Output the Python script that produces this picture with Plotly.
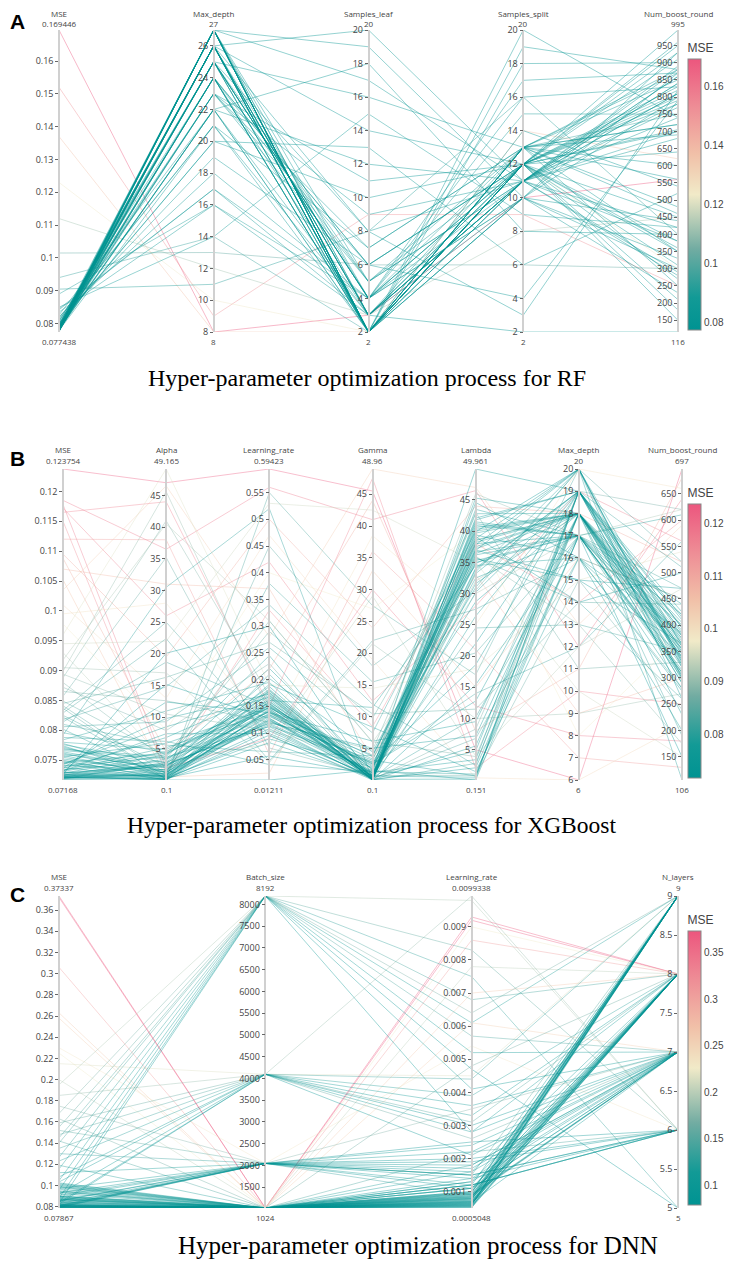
import plotly.graph_objects as go
from plotly.colors import sample_colorscale, unlabel_rgb

# the page body keeps its default 8px margin: positions below are page pixels,
# and the figure is kept small enough that the page does not scroll
OFF = 8
W, H = 733 - OFF, 1267 - 2 * OFF

# ---------------- RF ----------------
rf_mse = [0.169446, 0.152, 0.137, 0.123, 0.112, 0.1015, 0.094, 0.089, 0.0905, 0.0845,
          0.077438, 0.0776, 0.0779, 0.0781, 0.0778, 0.0783, 0.0786, 0.0780, 0.0777, 0.0785,
          0.0791, 0.0782, 0.0788, 0.0779, 0.0794, 0.0784, 0.0776, 0.0799, 0.0781, 0.0787,
          0.0803, 0.0778, 0.0792, 0.0785, 0.0780, 0.0812, 0.0783, 0.0777, 0.0796, 0.0789,
          0.0821, 0.0779, 0.0786, 0.0781, 0.0808, 0.0784, 0.0778, 0.0790, 0.0835, 0.0782,
          0.0776, 0.0798, 0.0787, 0.0780, 0.0815, 0.0783, 0.0779, 0.0793, 0.0842, 0.0785,
          0.0777, 0.0801, 0.0788, 0.0781, 0.0826, 0.0784, 0.0778, 0.0795, 0.0786, 0.0780,
          0.0850, 0.0782, 0.0779, 0.0805, 0.0789, 0.0783, 0.0777, 0.0818, 0.0787, 0.0781]
rf_max_depth = [8, 9, 8, 10, 12, 13, 14, 16, 11, 17,
                27, 26, 25, 27, 24, 26, 23, 27, 25, 22,
                26, 27, 24, 21, 26, 25, 27, 20, 26, 24,
                23, 27, 25, 26, 22, 19, 27, 24, 26, 25,
                18, 26, 27, 23, 24, 25, 26, 27, 16, 22,
                27, 25, 26, 24, 21, 27, 26, 23, 17, 25,
                26, 20, 27, 24, 22, 26, 25, 27, 23, 26,
                14, 27, 24, 25, 26, 22, 27, 21, 26, 25]
rf_samples_leaf = [3, 9, 2, 2, 3, 6, 2, 4, 8, 3,
                   2, 3, 2, 4, 2, 3, 6, 2, 5, 2,
                   4, 2, 3, 7, 2, 8, 2, 10, 3, 2,
                   5, 2, 4, 2, 12, 6, 3, 2, 14, 2,
                   4, 2, 3, 9, 2, 16, 2, 5, 3, 18,
                   2, 4, 2, 6, 3, 19, 2, 11, 4, 2,
                   3, 13, 2, 5, 2, 20, 4, 2, 7, 3,
                   15, 2, 6, 4, 2, 3, 17, 2, 8, 4]
rf_samples_split = [10, 9, 14, 12, 8, 6, 13, 12, 16, 11,
                    12, 11, 13, 12, 10, 11, 12, 13, 11, 12,
                    10, 12, 11, 13, 12, 11, 14, 12, 13, 10,
                    11, 12, 16, 13, 11, 12, 10, 20, 12, 11,
                    13, 12, 2, 11, 12, 13, 19, 12, 11, 8,
                    12, 11, 13, 4, 12, 10, 11, 12, 15, 13,
                    11, 6, 12, 13, 18, 11, 12, 10, 13, 12,
                    9, 11, 12, 17, 13, 12, 11, 12, 3, 10]
rf_num_boost_round = [560, 250, 620, 300, 450, 300, 750, 800, 400, 700,
                      820, 380, 880, 705, 930, 290, 640, 850, 420, 910,
                      300, 780, 860, 350, 995, 740, 540, 810, 250, 870,
                      770, 150, 830, 460, 680, 450, 800, 740, 350, 890,
                      720, 950, 116, 840, 310, 600, 880, 210, 780, 400,
                      700, 860, 480, 790, 930, 330, 810, 380, 750, 870,
                      840, 520, 270, 720, 900, 280, 830, 440, 690, 960,
                      420, 810, 360, 870, 560, 790, 880, 180, 820, 230]

# ---------------- XGBoost ----------------
xgb_mse = [0.07168, 0.0718, 0.0720, 0.0722, 0.0719, 0.0725, 0.0721, 0.0728, 0.0723, 0.0730,
           0.0719, 0.0733, 0.0726, 0.0721, 0.0736, 0.0724, 0.0740, 0.0722, 0.0729, 0.0744,
           0.0720, 0.0731, 0.0748, 0.0725, 0.0737, 0.0752, 0.0723, 0.0734, 0.0756, 0.0727,
           0.0742, 0.0760, 0.0721, 0.0746, 0.0764, 0.0730, 0.0750, 0.0768, 0.0724, 0.0755,
           0.0772, 0.0732, 0.0758, 0.0776, 0.0726, 0.0762, 0.0780, 0.0738, 0.0766, 0.0784,
           0.0722, 0.0770, 0.0788, 0.0741, 0.0774, 0.0792, 0.0728, 0.0778, 0.0796, 0.0745,
           0.0802, 0.0810, 0.0818, 0.0825, 0.0806, 0.0833, 0.0841, 0.0814, 0.0849, 0.0857,
           0.0822, 0.0865, 0.0872, 0.0829, 0.0880, 0.0888, 0.0837, 0.0894, 0.0845, 0.0899,
           0.123754, 0.1185, 0.1178, 0.1172, 0.1165, 0.1150, 0.1120, 0.1095, 0.1088, 0.1070,
           0.1052, 0.1035, 0.1010, 0.0995, 0.0978, 0.0960, 0.0945, 0.0930, 0.0918, 0.0905]
xgb_alpha = [0.1, 0.4, 1.2, 2.5, 0.8, 3.4, 0.2, 4.1, 1.8, 0.6,
             2.9, 5.2, 0.3, 1.5, 6.8, 0.9, 3.7, 0.1, 2.2, 8.5,
             1.1, 4.6, 0.5, 2.7, 12.4, 1.4, 0.2, 3.1, 5.9, 0.7,
             9.8, 2.0, 0.4, 4.3, 1.6, 15.2, 0.3, 3.8, 2.4, 0.9,
             1.3, 7.4, 0.6, 2.8, 20.1, 1.0, 4.9, 0.2, 3.5, 11.0,
             0.8, 2.1, 6.2, 1.7, 0.5, 30.5, 2.6, 1.2, 4.4, 0.1,
             0.3, 5.6, 14.8, 2.2, 9.3, 25.0, 1.1, 18.7, 4.0, 35.2,
             0.7, 12.6, 7.9, 22.4, 3.3, 41.0, 0.2, 10.5, 16.3, 45.6,
             47.0, 36.5, 2.0, 26.0, 44.0, 1.2, 38.0, 19.5, 4.5, 31.0,
             0.6, 46.5, 13.0, 28.0, 8.0, 49.165, 22.0, 3.0, 40.5, 17.0]
xgb_learning_rate = [0.128, 0.142, 0.155, 0.118, 0.163, 0.135, 0.104, 0.171, 0.149, 0.122,
                     0.187, 0.139, 0.096, 0.158, 0.176, 0.131, 0.112, 0.145, 0.202, 0.167,
                     0.125, 0.151, 0.089, 0.182, 0.138, 0.116, 0.160, 0.221, 0.147, 0.108,
                     0.173, 0.134, 0.057, 0.156, 0.191, 0.127, 0.143, 0.245, 0.119, 0.166,
                     0.152, 0.099, 0.179, 0.140, 0.300, 0.133, 0.161, 0.082, 0.148, 0.195,
                     0.124, 0.169, 0.041, 0.137, 0.154, 0.520, 0.113, 0.175, 0.146, 0.01211,
                     0.210, 0.065, 0.340, 0.180, 0.260, 0.095, 0.450, 0.150, 0.290, 0.072,
                     0.380, 0.120, 0.230, 0.048, 0.310, 0.170, 0.550, 0.105, 0.270, 0.140,
                     0.59423, 0.560, 0.090, 0.420, 0.150, 0.330, 0.060, 0.500, 0.220, 0.370,
                     0.025, 0.280, 0.470, 0.110, 0.400, 0.190, 0.530, 0.080, 0.310, 0.045]
xgb_gamma = [0.1, 0.3, 0.8, 1.5, 0.2, 2.4, 0.5, 0.1, 1.1, 3.2,
             0.4, 0.9, 0.1, 1.8, 0.6, 2.9, 0.2, 0.7, 4.5, 0.3,
             1.3, 0.1, 2.1, 0.5, 6.2, 0.8, 0.2, 1.6, 3.8, 0.4,
             0.1, 2.6, 0.9, 0.3, 8.4, 1.2, 0.6, 0.1, 5.1, 0.2,
             1.9, 0.7, 0.4, 3.4, 0.1, 1.0, 11.5, 0.5, 2.2, 0.3,
             0.8, 0.1, 1.4, 4.0, 0.6, 0.2, 2.8, 0.9, 0.1, 1.7,
             0.5, 3.9, 12.0, 1.2, 7.5, 0.3, 18.0, 2.6, 9.8, 0.8,
             15.5, 4.8, 0.2, 22.0, 6.1, 1.5, 27.5, 3.0, 10.5, 0.6,
             45.5, 41.0, 30.0, 12.5, 47.5, 8.5, 36.0, 24.0, 44.0, 3.5,
             33.0, 48.96, 19.0, 38.5, 27.0, 14.5, 42.5, 29.0, 6.0, 21.5]
xgb_lambda = [38.5, 36.2, 34.1, 40.3, 2.1, 37.8, 31.6, 42.1, 35.0, 0.8,
              39.4, 33.2, 5.6, 41.2, 36.9, 28.7, 0.3, 38.0, 34.8, 44.6,
              3.4, 37.2, 32.5, 39.9, 9.5, 35.6, 41.8, 0.151, 36.4, 30.2,
              40.9, 12.8, 38.8, 33.9, 1.5, 37.5, 43.5, 26.4, 7.2, 39.1,
              35.3, 0.6, 40.6, 31.0, 15.4, 38.2, 34.5, 4.8, 42.8, 36.7,
              22.0, 39.7, 1.1, 37.0, 45.3, 33.5, 18.6, 41.5, 2.8, 49.961,
              10.2, 35.8, 2.5, 24.5, 40.0, 6.8, 30.5, 14.0, 38.6, 0.9,
              20.5, 43.0, 8.3, 27.5, 3.9, 36.0, 17.0, 46.0, 11.5, 32.0,
              5.0, 46.5, 12.0, 28.0, 2.0, 38.0, 21.0, 44.0, 8.0, 33.0,
              15.0, 47.0, 0.5, 25.0, 40.0, 18.0, 35.0, 4.0, 30.0, 10.0]
xgb_max_depth = [18, 17, 19, 18, 17, 20, 18, 19, 17, 18,
                 16, 19, 18, 17, 20, 18, 19, 17, 18, 16,
                 19, 18, 17, 20, 18, 15, 19, 17, 18, 19,
                 17, 18, 20, 19, 16, 18, 17, 19, 18, 14,
                 17, 19, 18, 20, 17, 18, 16, 19, 18, 17,
                 19, 18, 17, 15, 18, 20, 19, 17, 18, 19,
                 17, 14, 19, 13, 18, 16, 20, 12, 18, 15,
                 17, 11, 19, 16, 18, 13, 20, 17, 14, 18,
                 6, 12, 8, 19, 10, 14, 7, 18, 11, 9,
                 16, 13, 6, 20, 8, 15, 10, 12, 17, 9]
xgb_num_boost_round = [340, 310, 365, 290, 380, 325, 405, 300, 355, 420,
                       275, 345, 390, 315, 260, 370, 335, 440, 305, 385,
                       350, 230, 400, 320, 360, 470, 295, 375, 340, 410,
                       280, 355, 330, 395, 200, 365, 310, 425, 345, 500,
                       300, 385, 325, 360, 150, 375, 340, 415, 290, 350,
                       395, 320, 610, 365, 335, 106, 380, 305, 355, 330,
                       420, 260, 510, 350, 190, 450, 300, 560, 380, 240,
                       470, 330, 620, 280, 400, 175, 520, 360, 440, 310,
                       697, 640, 180, 560, 250, 600, 130, 520, 680, 300,
                       450, 590, 210, 660, 380, 540, 150, 470, 620, 270]

# ---------------- DNN ----------------
dnn_mse = [0.07867, 0.0790, 0.0795, 0.0801, 0.0788, 0.0806, 0.0812, 0.0793, 0.0818, 0.0799,
           0.0825, 0.0791, 0.0831, 0.0804, 0.0838, 0.0797, 0.0845, 0.0809, 0.0852, 0.0789,
           0.0859, 0.0815, 0.0866, 0.0802, 0.0873, 0.0821, 0.0880, 0.0794, 0.0887, 0.0828,
           0.0894, 0.0807, 0.0901, 0.0835, 0.0908, 0.0798, 0.0915, 0.0842, 0.0922, 0.0811,
           0.0929, 0.0849, 0.0936, 0.0803, 0.0943, 0.0856, 0.0950, 0.0817, 0.0957, 0.0863,
           0.0964, 0.0796, 0.0971, 0.0870, 0.0978, 0.0824, 0.0985, 0.0877, 0.0992, 0.0808,
           0.1000, 0.0884, 0.1008, 0.0832, 0.1016, 0.0891, 0.1024, 0.0814, 0.1032, 0.0898,
           0.1045, 0.1080, 0.1120, 0.1155, 0.1190, 0.1230, 0.1265, 0.1300, 0.1350, 0.1400,
           0.1420, 0.1450, 0.1480, 0.1520, 0.1550, 0.1590, 0.1630, 0.1680, 0.1750, 0.1850,
           0.37337, 0.3720, 0.3060, 0.2630, 0.2580, 0.2300, 0.2250, 0.2150, 0.2000, 0.1950]
dnn_batch_size = [1024, 1024, 2048, 1024, 1024, 1024, 2048, 1024, 1024, 1024,
                  1024, 2048, 1024, 1024, 4096, 1024, 1024, 1024, 2048, 1024,
                  1024, 1024, 1024, 2048, 1024, 1024, 8192, 1024, 1024, 2048,
                  1024, 1024, 1024, 1024, 2048, 1024, 4096, 1024, 1024, 1024,
                  2048, 1024, 1024, 1024, 1024, 2048, 1024, 1024, 8192, 1024,
                  1024, 1024, 2048, 1024, 1024, 4096, 1024, 1024, 1024, 2048,
                  1024, 1024, 1024, 8192, 1024, 2048, 1024, 1024, 4096, 1024,
                  8192, 4096, 2048, 8192, 1024, 4096, 8192, 2048, 4096, 8192,
                  1024, 8192, 4096, 2048, 8192, 4096, 1024, 8192, 2048, 4096,
                  1024, 1024, 1024, 1024, 1024, 2048, 1024, 4096, 1024, 8192]
dnn_learning_rate = [0.00052, 0.00065, 0.0011, 0.00078, 0.00058, 0.00092, 0.0014, 0.00061, 0.00085, 0.0012,
                     0.00055, 0.0016, 0.00071, 0.00098, 0.0021, 0.00063, 0.00081, 0.0013, 0.0019, 0.00057,
                     0.00088, 0.0010, 0.00068, 0.0015, 0.00074, 0.00095, 0.0028, 0.00059, 0.0011, 0.0017,
                     0.00066, 0.00083, 0.0012, 0.00054, 0.0022, 0.00077, 0.0033, 0.0009, 0.00062, 0.0014,
                     0.0018, 0.0007, 0.00096, 0.00056, 0.0011, 0.0025, 0.0008, 0.00064, 0.0041, 0.0013,
                     0.0005048, 0.00087, 0.0015, 0.00072, 0.0010, 0.0030, 0.00067, 0.0012, 0.00079, 0.0020,
                     0.00093, 0.0006, 0.0016, 0.0047, 0.00075, 0.0024, 0.0011, 0.00069, 0.0036, 0.00084,
                     0.0052, 0.0028, 0.0012, 0.0061, 0.0018, 0.0039, 0.0075, 0.0009, 0.0044, 0.0068,
                     0.0022, 0.0057, 0.0031, 0.0015, 0.0083, 0.0026, 0.0048, 0.0064, 0.0035, 0.0099338,
                     0.0093, 0.0092, 0.0086, 0.0070, 0.0061, 0.0054, 0.0090, 0.0045, 0.0078, 0.0098]
dnn_n_layers = [8, 9, 7, 8, 9, 8, 7, 9, 8, 6,
                9, 7, 8, 9, 7, 8, 9, 7, 6, 8,
                9, 8, 7, 6, 9, 8, 7, 9, 8, 7,
                8, 9, 6, 8, 7, 9, 8, 7, 9, 6,
                7, 8, 9, 8, 7, 6, 9, 8, 7, 8,
                9, 7, 6, 8, 9, 7, 8, 9, 8, 6,
                7, 9, 8, 5, 9, 7, 8, 9, 7, 8,
                7, 8, 6, 9, 7, 8, 5, 7, 9, 8,
                6, 7, 8, 9, 6, 7, 8, 9, 7, 6,
                8, 8, 8, 8, 7, 6, 8, 9, 8, 6]

# tick values shown on each axis
rf_ticks = [[0.08, 0.09, 0.1, 0.11, 0.12, 0.13, 0.14, 0.15, 0.16],
            [8, 10, 12, 14, 16, 18, 20, 22, 24, 26],
            [2, 4, 6, 8, 10, 12, 14, 16, 18, 20],
            [2, 4, 6, 8, 10, 12, 14, 16, 18, 20],
            [150, 200, 250, 300, 350, 400, 450, 500, 550, 600, 650, 700, 750, 800, 850, 900, 950]]
xgb_ticks = [[0.075, 0.08, 0.085, 0.09, 0.095, 0.1, 0.105, 0.11, 0.115, 0.12],
             [5, 10, 15, 20, 25, 30, 35, 40, 45],
             [0.05, 0.1, 0.15, 0.2, 0.25, 0.3, 0.35, 0.4, 0.45, 0.5, 0.55],
             [5, 10, 15, 20, 25, 30, 35, 40, 45],
             [5, 10, 15, 20, 25, 30, 35, 40, 45],
             [6, 7, 8, 9, 10, 11, 12, 13, 14, 15, 16, 17, 18, 19, 20],
             [150, 200, 250, 300, 350, 400, 450, 500, 550, 600, 650]]
dnn_ticks = [[0.08, 0.1, 0.12, 0.14, 0.16, 0.18, 0.2, 0.22, 0.24, 0.26, 0.28, 0.3, 0.32, 0.34, 0.36],
             [1500, 2000, 2500, 3000, 3500, 4000, 4500, 5000, 5500, 6000, 6500, 7000, 7500, 8000],
             [0.001, 0.002, 0.003, 0.004, 0.005, 0.006, 0.007, 0.008, 0.009],
             [5, 5.5, 6, 6.5, 7, 7.5, 8, 8.5, 9]]

captions = ["Hyper-parameter optimization process for RF",
            "Hyper-parameter optimization process for XGBoost",
            "Hyper-parameter optimization process for DNN"]

mse_scale = [[0.0, "rgb(0,147,146)"], [0.12, "rgb(18,154,150)"], [0.3, "rgb(114,172,162)"],
             [0.42, "rgb(190,208,185)"], [0.5, "rgb(241,234,200)"], [0.65, "rgb(241,192,168)"],
             [0.82, "rgb(238,142,150)"], [1.0, "rgb(236,86,126)"]]

tick_font = dict(family="Open Sans, Verdana, sans-serif", size=9, color="#444")
label_font = dict(family="Open Sans, Verdana, sans-serif", size=8, color="#444")


def fx(v):
    return (v - OFF) / W


def fy(v):
    return 1 - (v - OFF) / H


def fmt(v):
    return "%.7g" % v


panels = [
    dict(dims=[("MSE", rf_mse), ("Max_depth", rf_max_depth), ("Samples_leaf", rf_samples_leaf),
               ("Samples_split", rf_samples_split), ("Num_boost_round", rf_num_boost_round)],
         mse=rf_mse, ticks=rf_ticks, x0=59, x1=678, top=30, bottom=332,
         name_y=13, range_y=24, cb=(40, 330), alpha=0.42),
    dict(dims=[("MSE", xgb_mse), ("Alpha", xgb_alpha), ("Learning_rate", xgb_learning_rate),
               ("Gamma", xgb_gamma), ("Lambda", xgb_lambda), ("Max_depth", xgb_max_depth),
               ("Num_boost_round", xgb_num_boost_round)],
         mse=xgb_mse, ticks=xgb_ticks, x0=63, x1=682, top=469, bottom=780,
         name_y=449, range_y=460, cb=(485, 778), alpha=0.38),
    dict(dims=[("MSE", dnn_mse), ("Batch_size", dnn_batch_size), ("Learning_rate", dnn_learning_rate),
               ("N_layers", dnn_n_layers)],
         mse=dnn_mse, ticks=dnn_ticks, x0=59, x1=678, top=896, bottom=1208,
         name_y=876, range_y=887, cb=(912, 1205), alpha=0.38),
]

fig = go.Figure()
annotations = []
layout_axes = {}
y_index = 1

for p, pan in enumerate(panels):
    dims, mse = pan["dims"], pan["mse"]
    n = len(dims)
    xname = "x" if p == 0 else "x%d" % (p + 1)
    base_y = "y" if y_index == 1 else "y%d" % y_index
    base_key = "yaxis" if y_index == 1 else "yaxis%d" % y_index
    y_index += 1
    ydom = [fy(pan["bottom"]), fy(pan["top"])]

    layout_axes["xaxis" if p == 0 else "xaxis%d" % (p + 1)] = dict(
        domain=[fx(pan["x0"]), fx(pan["x1"])], range=[0, n - 1], anchor=base_y,
        visible=False, fixedrange=True)
    layout_axes[base_key] = dict(domain=ydom, range=[0, 1], anchor=xname,
                                 visible=False, fixedrange=True)

    lows = [min(v) for _, v in dims]
    highs = [max(v) for _, v in dims]

    # polylines, one per trial, coloured by MSE; worst trials drawn first
    lo, hi = min(mse), max(mse)
    colours = sample_colorscale(mse_scale, [(m - lo) / (hi - lo) for m in mse])
    order = sorted(range(len(mse)), key=lambda j: -mse[j])
    for j in order:
        r, g, b = unlabel_rgb(colours[j])
        ys = [(v[j] - lows[i]) / (highs[i] - lows[i]) for i, (_, v) in enumerate(dims)]
        fig.add_trace(go.Scatter(
            x=list(range(n)), y=ys, xaxis=xname, yaxis=base_y, mode="lines",
            line=dict(color="rgba(%d,%d,%d,%.2f)" % (r, g, b, pan["alpha"]), width=1),
            hoverinfo="skip", showlegend=False))

    # one vertical axis per hyper-parameter, drawn by plotly with its own range
    for i, ((name, v), t) in enumerate(zip(dims, pan["ticks"])):
        ax_x = pan["x0"] + i * (pan["x1"] - pan["x0"]) / (n - 1)
        yname = "y%d" % y_index
        layout_axes["yaxis%d" % y_index] = dict(
            overlaying=base_y, anchor="free", position=fx(ax_x), side="left",
            range=[lows[i], highs[i]], tickvals=t,
            showline=True, linecolor="#d0d0d0", linewidth=1.5,
            ticks="outside", ticklen=3, tickcolor="#666", tickwidth=1,
            showgrid=False, zeroline=False, tickfont=tick_font, fixedrange=True)
        y_index += 1
        # invisible trace so that plotly draws this axis
        fig.add_trace(go.Scatter(
            x=[i, i], y=[lows[i], highs[i]], xaxis=xname, yaxis=yname, mode="lines",
            line=dict(color="rgba(0,0,0,0)", width=0), hoverinfo="skip", showlegend=False))
        for text, yy in [(name, pan["name_y"]), (fmt(highs[i]), pan["range_y"]),
                         (fmt(lows[i]), pan["bottom"] + 9)]:
            annotations.append(dict(text=text, x=fx(ax_x), y=fy(yy), xref="paper", yref="paper",
                                    showarrow=False, xanchor="center", yanchor="middle",
                                    font=label_font))

    # colour bar carried by an invisible marker
    fig.add_trace(go.Scatter(
        x=[0], y=[0], xaxis=xname, yaxis=base_y, mode="markers", hoverinfo="skip",
        showlegend=False,
        marker=dict(color=[lo], cmin=lo, cmax=hi, colorscale=mse_scale, opacity=0, showscale=True,
                    colorbar=dict(
                        title=dict(text="MSE", font=dict(size=12, color="#444")),
                        x=fx(688), xanchor="left",
                        y=fy(pan["cb"][0]), yanchor="top",
                        len=(pan["cb"][1] - pan["cb"][0]) / H, lenmode="fraction",
                        thickness=13, xpad=0, ypad=0,
                        outlinewidth=1, outlinecolor="#888",
                        tickfont=dict(family="Liberation Sans, Arial, sans-serif",
                                      size=10, color="#444"),
                        ticks="")),
    ))

for text, cx, cy, size in zip(captions, [367, 372, 418], [378, 825, 1245], [24, 23.5, 25]):
    annotations.append(dict(
        text=text, x=fx(cx), y=fy(cy), xref="paper", yref="paper",
        showarrow=False, xanchor="center", yanchor="middle",
        font=dict(family="Liberation Serif, Times New Roman, serif", size=size, color="black"),
    ))
for text, cy in zip(["A", "B", "C"], [22, 458, 894]):
    annotations.append(dict(
        text="<b>%s</b>" % text, x=fx(17), y=fy(cy), xref="paper", yref="paper",
        showarrow=False, xanchor="center", yanchor="middle",
        font=dict(family="Liberation Sans, Arial, sans-serif", size=21, color="black"),
    ))

fig.update_layout(
    width=W, height=H,
    margin=dict(l=0, r=0, t=0, b=0, autoexpand=False),
    paper_bgcolor="white",
    plot_bgcolor="rgba(0,0,0,0)",
    annotations=annotations,
    font=dict(family="Open Sans, Verdana, sans-serif", color="#444"),
    **layout_axes,
)

fig.write_html("out.html")
